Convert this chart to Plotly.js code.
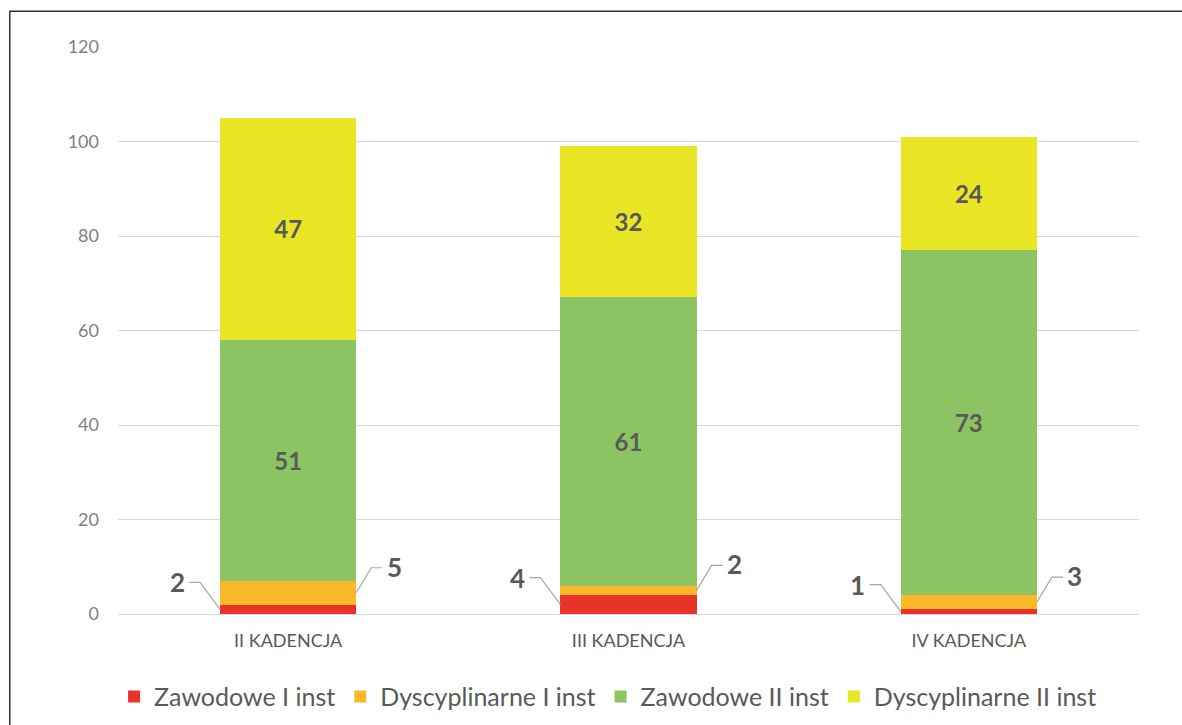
<!DOCTYPE html>
<html>
<head>
<meta charset="utf-8">
<script src="https://cdn.plot.ly/plotly-3.0.1.min.js"></script>
<style>
  html, body { margin: 0; padding: 0; background: #ffffff; }
  #chart { width: 1182px; height: 725px; }
</style>
</head>
<body>
<div id="chart"></div>
<script>
// ---- data ----
const categories = ['II KADENCJA', 'III KADENCJA', 'IV KADENCJA'];
const zawodoweI = [2, 4, 1];
const dyscyplinarneI = [5, 2, 3];
const zawodoweII = [51, 61, 73];
const dyscyplinarneII = [47, 32, 24];
const seriesNames = ['Zawodowe I inst', 'Dyscyplinarne I inst', 'Zawodowe II inst', 'Dyscyplinarne II inst'];
const yTicks = [0, 20, 40, 60, 80, 100, 120];

// ---- styles ----
const colors = ['#E8322A', '#FBB829', '#8CC463', '#EAE625'];
const FONT = 'Lato, "Open Sans", sans-serif';
const labelColor = '#595959';
const barWidthFrac = 0.4;

const seriesValues = [zawodoweI, dyscyplinarneI, zawodoweII, dyscyplinarneII];
const showInside = [false, false, true, true];

const traces = seriesValues.map((vals, k) => ({
  type: 'bar',
  name: seriesNames[k],
  x: categories,
  y: vals,
  marker: { color: colors[k], line: { width: 0 } },
  texttemplate: showInside[k] ? '%{y}' : '',
  textposition: showInside[k] ? 'inside' : 'none',
  insidetextanchor: 'middle',
  textfont: { family: FONT, size: 24, color: labelColor, weight: 'bold' },
  hoverinfo: 'x+y+name'
}));

// outside labels with leader lines for the small series
const annotations = [];
const shapes = [];
categories.forEach((c, i) => {
  const yRed = zawodoweI[i] / 2;
  const yOrange = zawodoweI[i] + dyscyplinarneI[i] / 2;
  // left leader (Zawodowe I inst)
  shapes.push({
    type: 'path', xref: 'x', yref: 'y',
    xsizemode: 'pixel', ysizemode: 'pixel',
    xanchor: i - barWidthFrac / 2, yanchor: yRed,
    path: 'M0,0 L-20,27 L-31,27',
    line: { color: '#a6a6a6', width: 1.2 }
  });
  annotations.push({
    x: i - barWidthFrac / 2, y: yRed, xref: 'x', yref: 'y',
    xshift: -43, yshift: 27, showarrow: false,
    text: String(zawodoweI[i]),
    xanchor: 'center', yanchor: 'middle',
    font: { family: FONT, size: 26, color: labelColor, weight: 'bold' }
  });
  // right leader (Dyscyplinarne I inst)
  shapes.push({
    type: 'path', xref: 'x', yref: 'y',
    xsizemode: 'pixel', ysizemode: 'pixel',
    xanchor: i + barWidthFrac / 2, yanchor: yOrange,
    path: 'M0,0 L15,25 L26,25',
    line: { color: '#a6a6a6', width: 1.2 }
  });
  annotations.push({
    x: i + barWidthFrac / 2, y: yOrange, xref: 'x', yref: 'y',
    xshift: 38, yshift: 26, showarrow: false,
    text: String(dyscyplinarneI[i]),
    xanchor: 'center', yanchor: 'middle',
    font: { family: FONT, size: 26, color: labelColor, weight: 'bold' }
  });
});

// outer frame
shapes.push({
  type: 'rect', xref: 'paper', yref: 'paper',
  x0: -0.106, x1: 1.1, y0: -0.3, y1: 1.063,
  line: { color: '#333333', width: 1.5 },
  fillcolor: 'rgba(0,0,0,0)', layer: 'above'
});

const layout = {
  width: 1182, height: 725,
  margin: { l: 118, r: 43, t: 47, b: 111, autoexpand: false },
  paper_bgcolor: '#ffffff', plot_bgcolor: '#ffffff',
  barmode: 'stack',
  bargap: 1 - barWidthFrac,
  showlegend: true,
  legend: {
    orientation: 'h', x: 0.48, xanchor: 'center', y: -0.146, yanchor: 'middle',
    font: { family: FONT, size: 25, color: labelColor },
    traceorder: 'normal', itemwidth: 30
  },
  xaxis: {
    type: 'category', automargin: false,
    showgrid: false, showline: false, zeroline: false,
    ticks: '', ticklabelstandoff: 14,
    tickfont: { family: FONT, size: 18, color: labelColor }
  },
  yaxis: {
    range: [0, 120], tickvals: yTicks, ticktext: yTicks.map(String), automargin: false,
    showgrid: true, gridcolor: '#d9d9d9', gridwidth: 1,
    zeroline: true, zerolinecolor: '#d9d9d9', zerolinewidth: 1,
    showline: false, ticks: '', ticklabelstandoff: 18,
    tickfont: { family: FONT, size: 18, color: '#7f7f7f' }
  },
  annotations: annotations,
  shapes: shapes
};

Plotly.newPlot('chart', traces, layout, { displayModeBar: false, staticPlot: true });
</script>
</body>
</html>
